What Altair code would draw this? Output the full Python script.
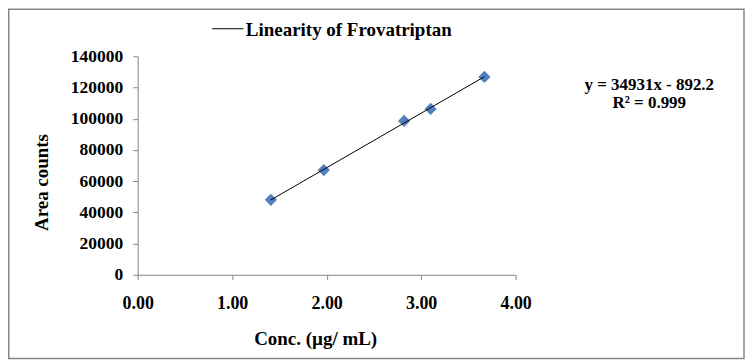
import altair as alt
import pandas as pd

conc = [1.41, 1.97, 2.82, 3.10, 3.67]
area = [48000, 67100, 98600, 106300, 126800]
x_ticks = [0, 1, 2, 3, 4]
y_ticks = [0, 20000, 40000, 60000, 80000, 100000, 120000, 140000]
legend_label = ["Linearity of Frovatriptan"]
equation_lines = ["y = 34931x - 892.2", "R² = 0.999"]

FONT = "Liberation Serif"
GRAY = "#868686"

df = pd.DataFrame({"conc": conc, "area": area})
one = pd.DataFrame({"k": [0]})
leg_df = pd.DataFrame({"t": legend_label})
eq1_df = pd.DataFrame({"t": equation_lines[:1]})
eq2_df = pd.DataFrame({"t": equation_lines[1:]})

W, H = 379, 219
PL, PT, PR, PB = 130, 48, 230, 85

xaxis = alt.Axis(values=x_ticks, format=".2f", title="Conc. (µg/ mL)",
                 titleX=178, titleY=64, titleBaseline="middle",
                 labelPadding=15, labelFlush=False, labelOverlap=False,
                 labelFontSize=18, tickCount=5)
yaxis = alt.Axis(values=y_ticks, format="d", title="Area counts",
                 titleX=-96, titleY=126, titleAngle=-90,
                 titleBaseline="middle", titleAlign="center",
                 labelPadding=10, labelFlush=False, labelOverlap=False,
                 labelFontSize=17.5, tickCount=8)
xscale = alt.Scale(domain=[0, 4], nice=False)
yscale = alt.Scale(domain=[0, 140000], nice=False)

base = alt.Chart(df)
points = base.mark_point(shape="diamond", filled=True, size=150,
                         color="#4F81BD", opacity=1).encode(
    x=alt.X("conc:Q", scale=xscale, axis=xaxis),
    y=alt.Y("area:Q", scale=yscale, axis=yaxis))
trend = base.transform_regression("conc", "area").mark_line(
    color="black", strokeWidth=1).encode(
    x=alt.X("conc:Q", scale=xscale, axis=xaxis),
    y=alt.Y("area:Q", scale=yscale, axis=yaxis))

border = alt.Chart(one).mark_rect(fill=None, stroke=GRAY, strokeWidth=1.5).encode(
    x=alt.value(-129.25), x2=alt.value(608), y=alt.value(-47.25), y2=alt.value(303))

leg_line = alt.Chart(one).mark_rule(color="black", strokeWidth=1).encode(
    x=alt.value(74.7), x2=alt.value(106), y=alt.value(-27.7))
leg_text = alt.Chart(leg_df).mark_text(font=FONT, fontWeight="bold", fontSize=19,
                                       align="left", baseline="middle", color="black").encode(
    x=alt.value(108.5), y=alt.value(-26), text="t:N")

eq_style = dict(font=FONT, fontWeight="bold", fontSize=17, align="center",
                baseline="middle", color="black")
eq1 = alt.Chart(eq1_df).mark_text(**eq_style).encode(
    x=alt.value(513), y=alt.value(29), text="t:N")
eq2 = alt.Chart(eq2_df).mark_text(**eq_style).encode(
    x=alt.value(513), y=alt.value(47), text="t:N")

chart = alt.layer(border, leg_line, leg_text, eq1, eq2, points, trend).properties(
    width=W, height=H, autosize="none",
    padding={"left": PL, "top": PT, "right": PR, "bottom": PB},
).configure_view(stroke=None).configure_axis(
    grid=False, domainColor=GRAY, tickColor=GRAY, tickSize=5, domainWidth=1,
    labelFont=FONT, labelFontWeight="bold", labelColor="black",
    titleFont=FONT, titleFontSize=19, titleFontWeight="bold", titleColor="black",
)

chart.save("out.html", embed_options={"renderer": "svg", "actions": False})
